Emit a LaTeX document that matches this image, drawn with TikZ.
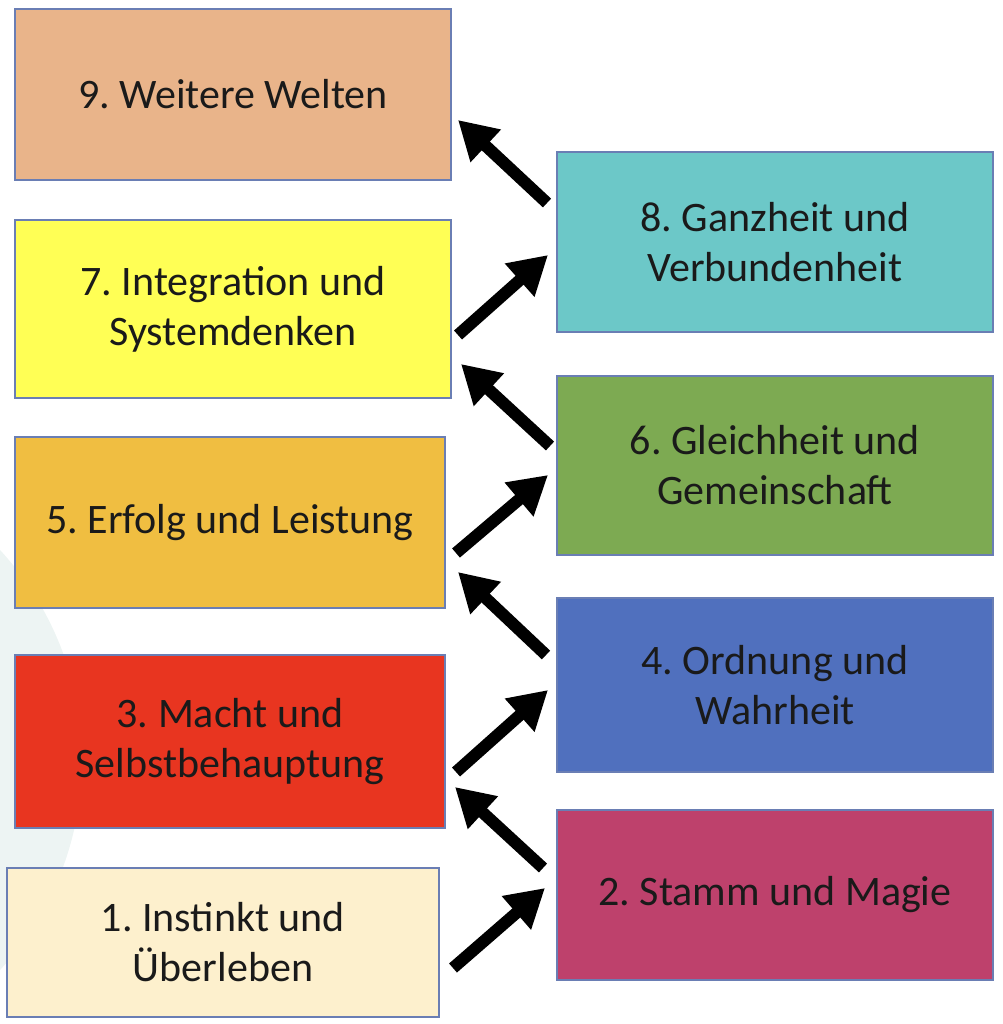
\documentclass[tikz,border=0pt]{standalone}
\usepackage{fontspec}
\setmainfont{Carlito}
\frenchspacing
\usetikzlibrary{arrows.meta}
\definecolor{c9}{HTML}{E9B48A}
\definecolor{c7}{HTML}{FFFF55}
\definecolor{c5}{HTML}{F0BE41}
\definecolor{c3}{HTML}{E83520}
\definecolor{c1}{HTML}{FDF0CD}
\definecolor{c8}{HTML}{6CC8C8}
\definecolor{c6}{HTML}{7DAA52}
\definecolor{c4}{HTML}{5070BE}
\definecolor{c2}{HTML}{BE416C}
\definecolor{edge}{HTML}{6A7EB4}
\definecolor{bgc}{HTML}{EDF4F3}
\definecolor{txt}{HTML}{1A1A1A}
\begin{document}
\begin{tikzpicture}[x=1pt,y=-1pt,
  stage/.style={draw=edge,line width=1.5pt,inner sep=0pt,align=center,
    text=txt,font=\fontsize{42}{50}\selectfont\frenchspacing},
  bigarrow/.style={line width=12pt,draw=black,
    -{Triangle[width=42pt,length=38pt]}}]
\useasboundingbox (0,0) rectangle (1002,1024);
\begin{scope}
\clip (0,0) rectangle (1002,1024);
\fill[bgc] (-228,760) circle (310);
\end{scope}
% left column
\node[stage,fill=c9,minimum width=436pt,minimum height=171pt] (n9) at (233,94.5) {9. Weitere Welten};
\node[stage,fill=c7,minimum width=436pt,minimum height=178pt] (n7) at (233,309) {7. Integration und\\Systemdenken};
\node[stage,fill=c5,minimum width=430pt,minimum height=171pt] (n5) at (230,522.5) {5. Erfolg und Leistung};
\node[stage,fill=c3,minimum width=430pt,minimum height=173pt] (n3) at (230,741.5) {3. Macht und\\Selbstbehauptung};
\node[stage,fill=c1,minimum width=432pt,minimum height=149pt] (n1) at (223,942.5) {1. Instinkt und\\Überleben};
% right column
\node[stage,fill=c8,minimum width=436pt,minimum height=180pt] (n8) at (775,242) {8. Ganzheit und\\Verbundenheit};
\node[stage,fill=c6,minimum width=436pt,minimum height=179pt] (n6) at (775,465.5) {6. Gleichheit und\\Gemeinschaft};
\node[stage,fill=c4,minimum width=436pt,minimum height=174pt] (n4) at (775,685) {4. Ordnung und\\Wahrheit};
\node[stage,fill=c2,minimum width=436pt,minimum height=170pt] (n2) at (775,895) {2. Stamm und Magie};
% arrow end points
\coordinate (a89s) at (547,203);  \coordinate (a89e) at (458,120);
\coordinate (a78s) at (458,335);  \coordinate (a78e) at (548,255);
\coordinate (a67s) at (550,446);  \coordinate (a67e) at (461,364);
\coordinate (a56s) at (456,553);  \coordinate (a56e) at (548,475);
\coordinate (a45s) at (546,655);  \coordinate (a45e) at (458,572);
\coordinate (a34s) at (456,772);  \coordinate (a34e) at (548,690);
\coordinate (a23s) at (543,868);  \coordinate (a23e) at (455,787);
\coordinate (a12s) at (453,968);  \coordinate (a12e) at (545,888);
\draw[bigarrow] (a89s) -- (a89e);
\draw[bigarrow] (a78s) -- (a78e);
\draw[bigarrow] (a67s) -- (a67e);
\draw[bigarrow] (a56s) -- (a56e);
\draw[bigarrow] (a45s) -- (a45e);
\draw[bigarrow] (a34s) -- (a34e);
\draw[bigarrow] (a23s) -- (a23e);
\draw[bigarrow] (a12s) -- (a12e);
\end{tikzpicture}
\end{document}
